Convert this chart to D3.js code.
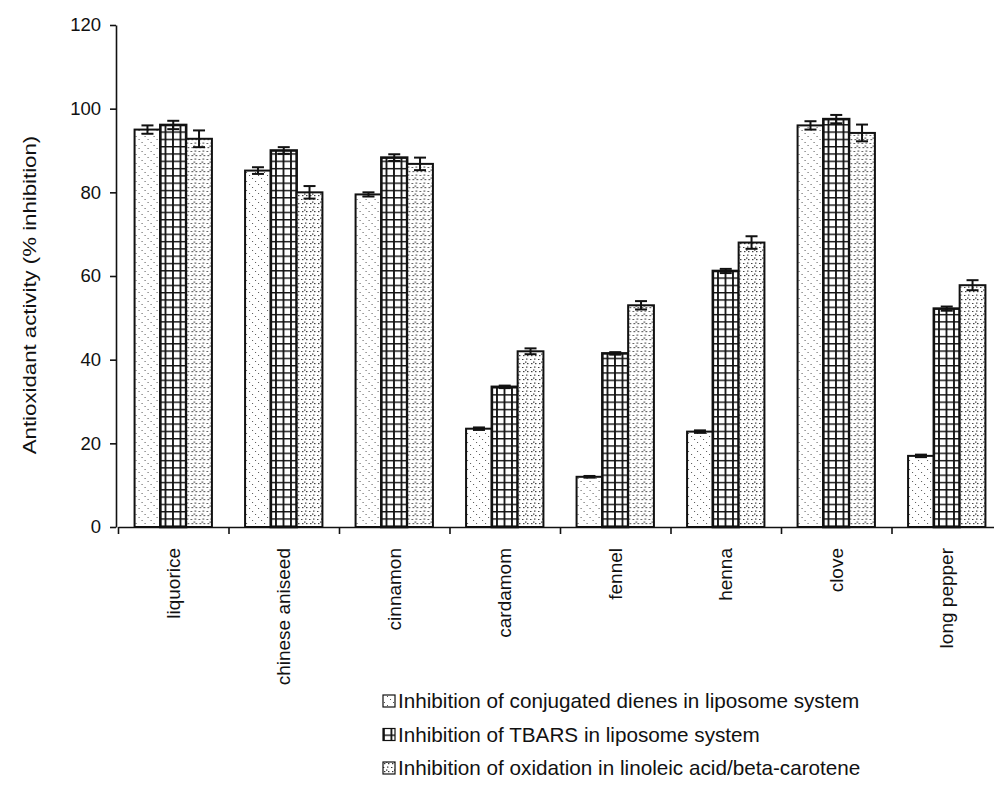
<!DOCTYPE html>
<html>
<head>
<meta charset="utf-8">
<script src="https://cdn.jsdelivr.net/npm/d3@7"></script>
<style>
  body { margin: 0; background: #fff; }
  text { font-family: "Liberation Sans", Arial, sans-serif; fill: #111; }
  .y-axis path, .y-axis line, .x-axis path, .x-axis line { stroke: #111; stroke-width: 1.6px; }
</style>
</head>
<body>
<svg id="container" width="994" height="785"></svg>
<script>
const categories = ["liquorice", "chinese aniseed", "cinnamon", "cardamom", "fennel", "henna", "clove", "long pepper"];
const seriesNames = [
  "Inhibition of conjugated dienes in liposome system",
  "Inhibition of TBARS in liposome system",
  "Inhibition of oxidation in linoleic acid/beta-carotene"
];
const dienesValues   = [95.0, 85.2, 79.5, 23.5, 12.0, 22.8, 96.0, 17.0];
const dienesErrors   = [1.0, 0.8, 0.5, 0.3, 0.2, 0.3, 1.0, 0.3];
const tbarsValues    = [96.1, 90.0, 88.3, 33.5, 41.5, 61.2, 97.5, 52.2];
const tbarsErrors    = [1.0, 0.8, 0.8, 0.3, 0.3, 0.5, 1.0, 0.5];
const linoleicValues = [92.8, 80.0, 86.8, 42.0, 53.0, 68.0, 94.2, 57.8];
const linoleicErrors = [2.0, 1.5, 1.5, 0.7, 1.0, 1.5, 2.0, 1.2];
const yTicks = [0, 20, 40, 60, 80, 100, 120];
const yTitle = "Antioxidant activity (% inhibition)";

const patternIds = ["pat-dienes", "pat-tbars", "pat-linoleic"];

const series = seriesNames.map((name, i) => ({
  name: name,
  pattern: patternIds[i],
  values: [dienesValues, tbarsValues, linoleicValues][i],
  errors: [dienesErrors, tbarsErrors, linoleicErrors][i]
}));

const svg = d3.select("#container");

const y = d3.scaleLinear().domain([0, 120]).range([527, 25]);
const x0 = d3.scaleBand().domain(categories).range([118, 1002]).paddingInner(0.3).paddingOuter(0.15);
const x1 = d3.scaleBand().domain(d3.range(series.length)).range([0, x0.bandwidth()]).padding(0);
const xEdge = d3.scaleLinear().domain([0, categories.length]).range([118, 1002]);

function makePatterns(defs) {
  // sparse diagonal stipple
  let p1 = defs.append("pattern").attr("id", patternIds[0])
    .attr("patternUnits", "userSpaceOnUse").attr("width", 9).attr("height", 9);
  p1.append("rect").attr("width", 9).attr("height", 9).attr("fill", "#fff");
  [[1, 1], [4, 4], [7, 7]].forEach(p => {
    p1.append("rect").attr("x", p[0]).attr("y", p[1]).attr("width", 1).attr("height", 1).attr("fill", "#555");
  });

  // square grid
  let p2 = defs.append("pattern").attr("id", patternIds[1])
    .attr("patternUnits", "userSpaceOnUse").attr("width", 7.5).attr("height", 7.3);
  p2.append("rect").attr("width", 7.5).attr("height", 7.3).attr("fill", "#fff");
  p2.append("rect").attr("x", 0).attr("y", 0).attr("width", 7.5).attr("height", 1.4).attr("fill", "#111");
  p2.append("rect").attr("x", 0).attr("y", 0).attr("width", 1.8).attr("height", 7.3).attr("fill", "#111");

  // dotted chevrons
  let p3 = defs.append("pattern").attr("id", patternIds[2])
    .attr("patternUnits", "userSpaceOnUse").attr("width", 8).attr("height", 8);
  p3.append("rect").attr("width", 8).attr("height", 8).attr("fill", "#fff");
  [[1, 3], [3, 1.5], [5, 3], [0, 7], [4, 6.5]].forEach(p => {
    p3.append("rect").attr("x", p[0]).attr("y", p[1]).attr("width", 1.4).attr("height", 1.2).attr("fill", "#333");
  });
}

function renderYAxis(target) {
  target.append("g")
    .attr("class", "y-axis")
    .attr("transform", "translate(116,0)")
    .call(d3.axisLeft(y).tickValues(yTicks).tickSize(6).tickSizeOuter(0).tickPadding(9))
    .selectAll("text")
    .style("font-size", "18.5px");

  // the scan is stretched along the vertical, so the rotated title runs longer
  target.append("text")
    .attr("transform", "translate(36,295) rotate(-90) scale(1.17,1)")
    .attr("text-anchor", "middle")
    .style("font-size", "19px")
    .text(yTitle);
}

function renderXAxis(target) {
  target.append("g")
    .attr("class", "x-axis")
    .attr("transform", "translate(0,527)")
    .call(d3.axisBottom(xEdge).tickValues(d3.range(categories.length + 1)).tickSize(7).tickSizeOuter(0).tickFormat(""));

  let labels = target.append("g")
    .attr("class", "x-labels")
    .attr("transform", "translate(0,527)")
    .call(d3.axisBottom(x0).tickSize(0).tickPadding(0));
  labels.select(".domain").remove();
  labels.selectAll("text")
    .attr("transform", "translate(0,21) rotate(-90)")
    .attr("x", 0)
    .attr("y", 0)
    .attr("dy", "0.35em")
    .style("text-anchor", "end")
    .style("font-size", "19px");
}

function drawBars(target) {
  let groups = target.selectAll("g.cat")
    .data(categories)
    .enter()
    .append("g")
    .attr("class", "cat")
    .attr("transform", d => `translate(${x0(d)},0)`);

  let bars = groups.selectAll("g.bar")
    .data((c, ci) => series.map((s, si) => ({ si: si, s: s, v: s.values[ci], e: s.errors[ci] })))
    .enter()
    .append("g")
    .attr("class", "bar");

  bars.append("rect")
    .attr("x", d => x1(d.si))
    .attr("y", d => y(d.v))
    .attr("width", x1.bandwidth())
    .attr("height", d => y(0) - y(d.v))
    .attr("fill", d => `url(#${d.s.pattern})`)
    .attr("stroke", "#111")
    .attr("stroke-width", d => d.si === 1 ? 2.6 : 2);

  // error bars
  let cx = d => x1(d.si) + x1.bandwidth() / 2;
  bars.append("line")
    .attr("x1", cx).attr("x2", cx)
    .attr("y1", d => y(d.v + d.e)).attr("y2", d => y(d.v - d.e))
    .attr("stroke", "#111").attr("stroke-width", 2);
  [1, -1].forEach(sign => {
    bars.append("line")
      .attr("x1", d => cx(d) - 6).attr("x2", d => cx(d) + 6)
      .attr("y1", d => y(d.v + sign * d.e)).attr("y2", d => y(d.v + sign * d.e))
      .attr("stroke", "#111").attr("stroke-width", 2);
  });
}

function drawLegend(target) {
  let rows = target.selectAll("g.legend")
    .data(series)
    .enter()
    .append("g")
    .attr("class", "legend")
    .attr("transform", (d, i) => `translate(383,${701 + i * 33.5})`);

  rows.append("rect")
    .attr("x", 0).attr("y", -6)
    .attr("width", 12).attr("height", 12)
    .attr("fill", d => `url(#${d.pattern})`)
    .attr("stroke", "#111").attr("stroke-width", 1.2);

  rows.append("text")
    .attr("x", 15).attr("y", 0)
    .attr("dy", "0.35em")
    .style("font-size", "20.7px")
    .text(d => d.name);
}

makePatterns(svg.append("defs"));
drawBars(svg);
renderXAxis(svg);
renderYAxis(svg);
drawLegend(svg);
</script>
</body>
</html>
